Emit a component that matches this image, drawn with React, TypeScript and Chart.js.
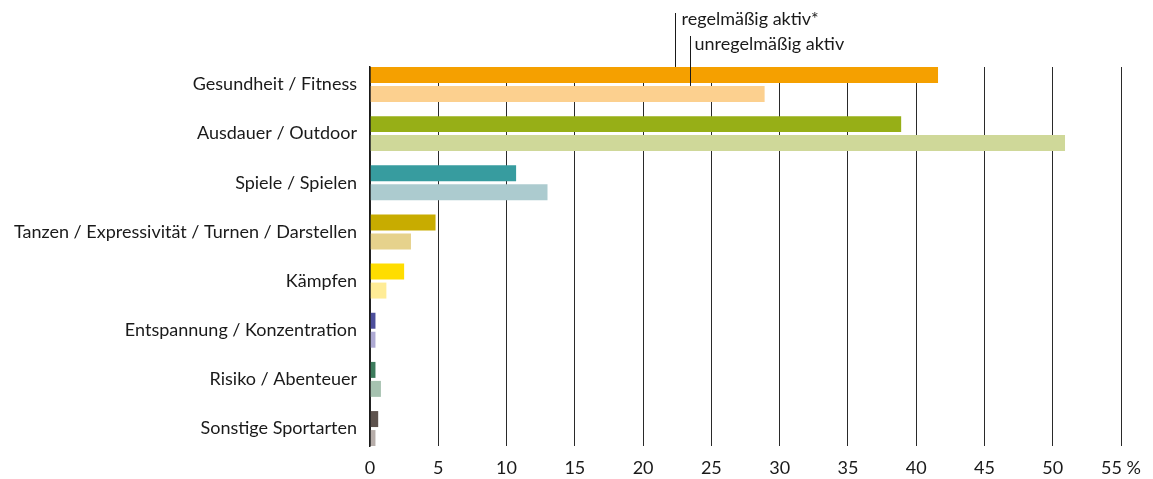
import { useEffect, useRef } from 'react';
import { Chart, registerables } from 'chart.js';

Chart.register(...registerables);

const categories = [
  'Gesundheit / Fitness',
  'Ausdauer / Outdoor',
  'Spiele / Spielen',
  'Tanzen / Expressivität / Turnen / Darstellen',
  'Kämpfen',
  'Entspannung / Konzentration',
  'Risiko / Abenteuer',
  'Sonstige Sportarten',
];

const seriesNames = ['regelmäßig aktiv*', 'unregelmäßig aktiv'];

const regularValues = [41.6, 38.9, 10.7, 4.8, 2.5, 0.4, 0.4, 0.6];
const irregularValues = [28.9, 50.9, 13.0, 3.0, 1.2, 0.4, 0.8, 0.4];

const regularColors = ['#F5A000', '#97AF17', '#379C9F', '#C8AC00', '#FFDD00', '#4D4F9C', '#3D7C5D', '#5E534E'];
const irregularColors = ['#FCD08F', '#CFD899', '#ACCBCF', '#E6D28C', '#FFEC96', '#AEAAD3', '#A6C2B0', '#B7AEAA'];

const xTickLabels = ['0', '5', '10', '15', '20', '25', '30', '35', '40', '45', '50', '55 %'];

// value positions (on the x scale) where the series leader lines sit
const leaderValues = [22.33, 23.43];

const TEXT = '#1a1a1a';
const FONT = 'Lato';
const FSIZE = 18;

const seriesLabelPlugin = {
  id: 'seriesLabels',
  afterDatasetsDraw(chart: any) {
    const ctx = chart.ctx;
    const xs = chart.scales.x;
    const textY = [19, 44];
    const lineTop = [13, 36];
    const textGap = [6, 4];
    ctx.save();
    ctx.font = `${FSIZE}px ${FONT}`;
    ctx.fillStyle = TEXT;
    ctx.strokeStyle = TEXT;
    ctx.lineWidth = 1;
    ctx.textBaseline = 'middle';
    ctx.textAlign = 'left';
    seriesNames.forEach((name, d) => {
      const bar = chart.getDatasetMeta(d).data[0] as any;
      const top = bar.y - bar.height / 2;
      const lx = Math.round(xs.getPixelForValue(leaderValues[d])) + 0.5;
      ctx.beginPath();
      ctx.moveTo(lx, lineTop[d]);
      ctx.lineTo(lx, top);
      ctx.stroke();
      ctx.fillText(name, lx + textGap[d], textY[d]);
    });
    ctx.restore();
  },
};

export default function App() {
  const ref = useRef<HTMLCanvasElement | null>(null);

  useEffect(() => {
    if (!ref.current) return;
    Chart.defaults.font.family = FONT;
    Chart.defaults.font.size = FSIZE;
    Chart.defaults.color = TEXT;

    const chart = new Chart(ref.current, {
      type: 'bar',
      data: {
        datasets: [
          {
            label: seriesNames[0],
            data: regularValues.map((v, i) => ({ x: v, y: i })),
            backgroundColor: regularColors,
            borderWidth: 0,
          },
          {
            label: seriesNames[1],
            data: irregularValues.map((v, i) => ({ x: v, y: i })),
            backgroundColor: irregularColors,
            borderWidth: 0,
          },
        ],
      },
      options: {
        indexAxis: 'y',
        animation: false,
        responsive: false,
        events: [],
        categoryPercentage: 0.772,
        barPercentage: 0.842,
        layout: { padding: { top: 67, right: 32, left: 0, bottom: 0 } },
        plugins: {
          legend: { display: false },
          tooltip: { enabled: false },
          title: { display: false },
        },
        scales: {
          x: {
            type: 'linear',
            position: 'bottom',
            min: 0,
            max: 55,
            grid: { color: '#2a2a2a', lineWidth: 1, drawTicks: false },
            border: { display: false },
            ticks: {
              stepSize: 5,
              padding: 11,
              color: TEXT,
              font: { family: FONT, size: FSIZE },
              callback: (_v: any, i: number) => xTickLabels[i],
            },
            afterFit: (scale: any) => {
              scale.height = 33;
            },
          },
          y: {
            type: 'linear',
            reverse: true,
            offset: false,
            min: -0.355,
            max: 7.355,
            grace: 0,
            grid: { display: false, drawTicks: false, offset: false },
            border: { display: true, color: '#1a1a1a', width: 1.5, z: 1 },
            afterBuildTicks: (scale: any) => {
              scale.ticks = categories.map((_, i) => ({ value: i }));
            },
            ticks: {
              padding: 13,
              color: TEXT,
              font: { family: FONT, size: FSIZE },
              autoSkip: false,
              callback: (v: any) => categories[Math.round(Number(v))] ?? '',
            },
            afterFit: (scale: any) => {
              scale.width = 370;
            },
          },
        },
      },
      plugins: [seriesLabelPlugin],
    });
    return () => chart.destroy();
  }, []);

  return (
    <div style={{ position: 'absolute', left: 0, top: 0, width: 1153, height: 479, background: '#fff' }}>
      <canvas ref={ref} width={1153} height={479} style={{ display: 'block' }} />
    </div>
  );
}
